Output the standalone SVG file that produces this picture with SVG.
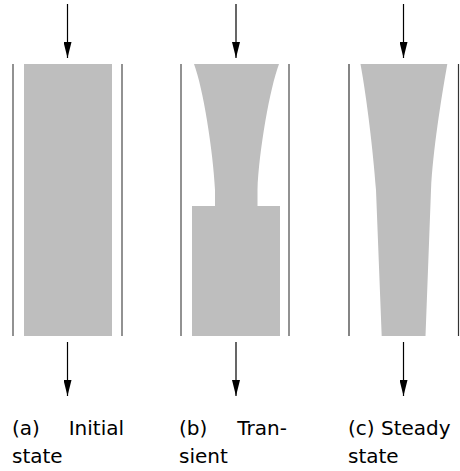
<svg xmlns="http://www.w3.org/2000/svg" width="460" height="471" viewBox="0 0 460 471">
<defs>
<marker id="ah" markerWidth="16" markerHeight="8" refX="16" refY="4" orient="auto" markerUnits="userSpaceOnUse" viewBox="0 0 16 8">
<path d="M0,0 L16,4 L0,8 Z" fill="#000"/>
</marker>
<style>
.mat{fill:#bebebe;stroke:none}
.wall{stroke:#777;stroke-width:1.6;fill:none}
.wall2{stroke:#333;stroke-width:1.2;fill:none}
.arr{stroke:#000;stroke-width:1.2;fill:none;marker-end:url(#ah)}
.lbl{font-family:"DejaVu Sans",sans-serif;font-size:20px;fill:#000}
</style>
</defs>
<rect width="460" height="471" fill="#fff"/>
<g id="panel-a">
<line class="wall" x1="13" y1="64" x2="13" y2="336"/>
<line class="wall" x1="122" y1="64" x2="122" y2="336"/>
<rect class="mat" x="24" y="64" width="88" height="272"/>
<text class="lbl" x="12" y="435">(a)</text>
<text class="lbl" x="124" y="435" text-anchor="end">Initial</text>
<text class="lbl" x="12" y="463">state</text>
</g>
<g id="panel-b">
<line class="wall" x1="181" y1="64" x2="181" y2="336"/>
<line class="wall" x1="289" y1="64" x2="289" y2="336"/>
<path class="mat" d="M194,64 L279,64 C270,88 259,150 257.5,190 L257.5,206 L280,206 L280,336 L192,336 L192,206 L215,206 L215,190 C213,150 203,88 194,64 Z"/>
<text class="lbl" x="179" y="435">(b)</text>
<text class="lbl" x="287" y="435" text-anchor="end">Tran-</text>
<text class="lbl" x="179" y="463">sient</text>
</g>
<g id="panel-c">
<line class="wall2" x1="349" y1="64" x2="349" y2="336"/>
<line class="wall2" x1="458.5" y1="64" x2="458.5" y2="336"/>
<path class="mat" d="M360.5,64 L447.3,64 C441,100 433,150 431,190 L425.5,336 L381.7,336 L376,190 C373,150 367,100 360.5,64 Z"/>
<text class="lbl" x="348" y="435">(c) Steady</text>
<text class="lbl" x="348" y="463">state</text>
</g>
<g id="connectors">
<line class="arr" x1="67.5" y1="4" x2="67.5" y2="58"/>
<line class="arr" x1="236" y1="4" x2="236" y2="58"/>
<line class="arr" x1="403.5" y1="4" x2="403.5" y2="58"/>
<line class="arr" x1="67.5" y1="342" x2="67.5" y2="396"/>
<line class="arr" x1="236" y1="342" x2="236" y2="396"/>
<line class="arr" x1="403.5" y1="342" x2="403.5" y2="396"/>
</g>
</svg>
